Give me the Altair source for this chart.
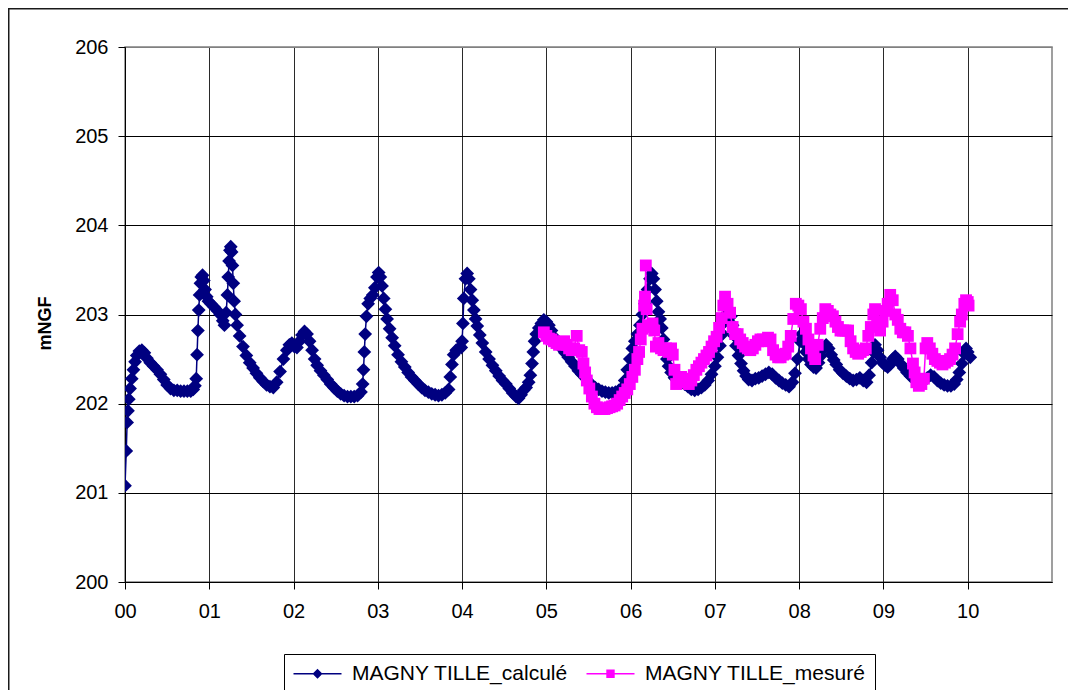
import altair as alt
import pandas as pd

# ---------------- data ----------------
series_names = ["MAGNY TILLE_calculé", "MAGNY TILLE_mesuré"]
series_colors = ["#000080", "#FF00FF"]
x_ticks = list(range(0, 11))
y_ticks = list(range(200, 207))

calc_t = [0.00, 0.015, 0.025, 0.035, 0.045, 0.06, 0.08, 0.10, 0.12, 0.14, 0.17, 0.20, 0.23, 0.26, 0.30, 0.34, 0.38, 0.42, 0.46, 0.50,
          0.54, 0.58, 0.62, 0.66, 0.70, 0.74, 0.78, 0.81, 0.83, 0.845, 0.855, 0.865, 0.875, 0.885, 0.895, 0.905, 0.92, 0.935, 0.95, 0.97,
          0.99, 1.02, 1.06, 1.10, 1.13, 1.16, 1.18, 1.20, 1.215, 1.225, 1.235, 1.245, 1.255, 1.265, 1.275, 1.285, 1.295, 1.31, 1.33, 1.36,
          1.40, 1.44, 1.48, 1.52, 1.56, 1.60, 1.64, 1.68, 1.72, 1.76, 1.80, 1.84, 1.88, 1.92, 1.95, 1.98, 2.01, 2.04, 2.07, 2.10,
          2.13, 2.16, 2.19, 2.22, 2.25, 2.28, 2.32, 2.36, 2.40, 2.44, 2.48, 2.52, 2.56, 2.60, 2.64, 2.68, 2.72, 2.76, 2.80, 2.82,
          2.83, 2.84, 2.85, 2.865, 2.885, 2.91, 2.94, 2.965, 2.99, 3.01, 3.03, 3.05, 3.07, 3.09, 3.11, 3.14, 3.17, 3.20, 3.24, 3.28,
          3.32, 3.36, 3.40, 3.44, 3.48, 3.52, 3.56, 3.60, 3.64, 3.68, 3.72, 3.76, 3.80, 3.84, 3.86, 3.88, 3.90, 3.93, 3.96, 3.99,
          4.00, 4.01, 4.02, 4.04, 4.06, 4.08, 4.10, 4.12, 4.14, 4.16, 4.18, 4.21, 4.24, 4.28, 4.32, 4.36, 4.40, 4.44, 4.48, 4.52,
          4.56, 4.60, 4.64, 4.67, 4.70, 4.73, 4.76, 4.79, 4.81, 4.83, 4.845, 4.86, 4.88, 4.91, 4.94, 4.97, 5.00, 5.03, 5.06, 5.10,
          5.14, 5.18, 5.22, 5.26, 5.30, 5.34, 5.38, 5.42, 5.46, 5.50, 5.54, 5.58, 5.62, 5.66, 5.70, 5.74, 5.78, 5.82, 5.86, 5.90,
          5.93, 5.96, 5.99, 6.02, 6.05, 6.08, 6.11, 6.14, 6.17, 6.20, 6.23, 6.25, 6.27, 6.29, 6.31, 6.33, 6.35, 6.37, 6.39, 6.41,
          6.43, 6.45, 6.48, 6.52, 6.56, 6.60, 6.64, 6.68, 6.72, 6.76, 6.80, 6.84, 6.88, 6.92, 6.96, 7.00, 7.03, 7.06, 7.09, 7.12,
          7.15, 7.17, 7.19, 7.21, 7.23, 7.25, 7.28, 7.31, 7.34, 7.37, 7.40, 7.44, 7.48, 7.52, 7.56, 7.60, 7.64, 7.68, 7.72, 7.76,
          7.80, 7.84, 7.88, 7.92, 7.95, 7.98, 8.01, 8.03, 8.05, 8.08, 8.11, 8.14, 8.17, 8.20, 8.23, 8.26, 8.29, 8.32, 8.35, 8.38,
          8.41, 8.44, 8.48, 8.52, 8.56, 8.60, 8.64, 8.68, 8.72, 8.76, 8.80, 8.83, 8.86, 8.88, 8.90, 8.93, 8.96, 8.99, 9.02, 9.05,
          9.08, 9.11, 9.14, 9.17, 9.20, 9.24, 9.28, 9.32, 9.36, 9.40, 9.44, 9.48, 9.52, 9.56, 9.60, 9.64, 9.68, 9.72, 9.76, 9.80,
          9.84, 9.87, 9.90, 9.93, 9.96, 9.98, 10.00, 10.03]
calc_v = [201.08, 201.47, 201.79, 201.92, 202.05, 202.17, 202.28, 202.38, 202.47, 202.54, 202.59, 202.60, 202.57, 202.51, 202.46, 202.42, 202.38, 202.33, 202.27, 202.21,
          202.17, 202.15, 202.15, 202.14, 202.14, 202.14, 202.14, 202.16, 202.20, 202.28, 202.55, 202.82, 203.05, 203.22, 203.35, 203.42, 203.44, 203.38, 203.28, 203.20,
          203.15, 203.12, 203.08, 203.04, 203.00, 202.93, 202.88, 203.02, 203.22, 203.42, 203.60, 203.72, 203.76, 203.70, 203.55, 203.35, 203.15, 203.00, 202.88, 202.76,
          202.64, 202.54, 202.46, 202.40, 202.34, 202.29, 202.25, 202.21, 202.19, 202.18, 202.24, 202.36, 202.50, 202.60, 202.66, 202.68, 202.64, 202.63, 202.70, 202.77,
          202.81, 202.78, 202.70, 202.60, 202.50, 202.43, 202.37, 202.32, 202.27, 202.22, 202.18, 202.14, 202.11, 202.09, 202.08, 202.08, 202.08, 202.09, 202.13, 202.22,
          202.38, 202.58, 202.78, 202.98, 203.12, 203.18, 203.22, 203.30, 203.42, 203.47, 203.42, 203.32, 203.18, 203.06, 202.95, 202.84, 202.74, 202.65, 202.55, 202.47,
          202.41, 202.35, 202.30, 202.26, 202.22, 202.18, 202.15, 202.13, 202.11, 202.10, 202.09, 202.10, 202.12, 202.16, 202.30, 202.44, 202.55, 202.60, 202.62, 202.63,
          202.70, 202.90, 203.18, 203.40, 203.46, 203.40, 203.28, 203.16, 203.05, 202.95, 202.87, 202.77, 202.68, 202.58, 202.50, 202.43, 202.37, 202.31, 202.26, 202.22,
          202.17, 202.12, 202.08, 202.06, 202.10, 202.15, 202.18, 202.24, 202.32, 202.45, 202.58, 202.70, 202.78, 202.85, 202.90, 202.94, 202.92, 202.88, 202.82, 202.74,
          202.68, 202.62, 202.57, 202.52, 202.47, 202.42, 202.37, 202.33, 202.29, 202.25, 202.21, 202.18, 202.16, 202.14, 202.13, 202.12, 202.12, 202.13, 202.15, 202.18,
          202.26, 202.38, 202.50, 202.62, 202.70, 202.78, 202.88, 203.00, 203.12, 203.28, 203.40, 203.46, 203.40, 203.28, 203.15, 203.03, 202.95, 202.85, 202.72, 202.60,
          202.50, 202.42, 202.35, 202.29, 202.26, 202.24, 202.22, 202.19, 202.16, 202.15, 202.16, 202.18, 202.21, 202.26, 202.33, 202.42, 202.52, 202.65, 202.78, 202.92,
          203.02, 203.05, 202.98, 202.88, 202.76, 202.65, 202.54, 202.45, 202.37, 202.31, 202.27, 202.26, 202.28, 202.29, 202.31, 202.33, 202.35, 202.33, 202.29, 202.26,
          202.23, 202.21, 202.19, 202.24, 202.34, 202.50, 202.70, 202.78, 202.68, 202.58, 202.50, 202.44, 202.41, 202.40, 202.46, 202.54, 202.62, 202.66, 202.62, 202.55,
          202.49, 202.44, 202.38, 202.34, 202.31, 202.28, 202.26, 202.27, 202.29, 202.26, 202.24, 202.32, 202.46, 202.58, 202.66, 202.60, 202.52, 202.46, 202.43, 202.41,
          202.44, 202.50, 202.53, 202.50, 202.45, 202.40, 202.35, 202.31, 202.28, 202.26, 202.25, 202.26, 202.29, 202.32, 202.30, 202.26, 202.23, 202.21, 202.20, 202.20,
          202.22, 202.27, 202.35, 202.45, 202.56, 202.62, 202.58, 202.52]

mes_t = [4.97, 5.00, 5.03, 5.06, 5.09, 5.12, 5.15, 5.18, 5.21, 5.24, 5.27, 5.30, 5.33, 5.36, 5.39, 5.42, 5.44, 5.46, 5.48, 5.51,
         5.54, 5.57, 5.60, 5.63, 5.66, 5.69, 5.72, 5.75, 5.78, 5.81, 5.84, 5.87, 5.90, 5.93, 5.96, 5.99, 6.02, 6.05, 6.08, 6.10,
         6.12, 6.14, 6.16, 6.17, 6.18, 6.19, 6.21, 6.24, 6.26, 6.28, 6.30, 6.33, 6.36, 6.39, 6.42, 6.45, 6.48, 6.50, 6.52, 6.54,
         6.57, 6.60, 6.63, 6.66, 6.69, 6.72, 6.75, 6.78, 6.81, 6.84, 6.87, 6.90, 6.93, 6.96, 6.99, 7.02, 7.05, 7.08, 7.10, 7.12,
         7.15, 7.18, 7.21, 7.24, 7.27, 7.30, 7.33, 7.36, 7.39, 7.42, 7.45, 7.48, 7.51, 7.54, 7.57, 7.60, 7.63, 7.66, 7.69, 7.72,
         7.75, 7.78, 7.81, 7.84, 7.87, 7.90, 7.93, 7.96, 7.99, 8.02, 8.05, 8.08, 8.11, 8.14, 8.17, 8.19, 8.22, 8.25, 8.28, 8.31,
         8.34, 8.37, 8.40, 8.43, 8.46, 8.49, 8.52, 8.55, 8.58, 8.61, 8.64, 8.67, 8.70, 8.73, 8.76, 8.79, 8.82, 8.85, 8.88, 8.90,
         8.93, 8.96, 8.99, 9.02, 9.05, 9.08, 9.11, 9.14, 9.17, 9.20, 9.23, 9.26, 9.29, 9.32, 9.35, 9.37, 9.39, 9.42, 9.45, 9.48,
         9.50, 9.52, 9.55, 9.58, 9.61, 9.64, 9.67, 9.70, 9.73, 9.76, 9.79, 9.82, 9.85, 9.88, 9.91, 9.93, 9.96, 9.98, 10.00, 10.01]
mes_v = [202.80, 202.76, 202.73, 202.72, 202.70, 202.68, 202.66, 202.68, 202.70, 202.66, 202.62, 202.60, 202.62, 202.76, 202.60, 202.58, 202.45, 202.35, 202.26, 202.17,
         202.08, 202.00, 201.96, 201.94, 201.94, 201.94, 201.95, 201.96, 201.97, 201.98, 202.00, 202.04, 202.08, 202.12, 202.16, 202.22, 202.30, 202.38, 202.50, 202.58,
         202.72, 202.84, 203.10, 203.20, 203.55, 203.06, 202.88, 202.86, 202.90, 202.82, 202.64, 202.68, 202.62, 202.60, 202.62, 202.58, 202.62, 202.55, 202.38, 202.22,
         202.26, 202.30, 202.28, 202.24, 202.22, 202.26, 202.32, 202.38, 202.42, 202.46, 202.50, 202.54, 202.58, 202.64, 202.70, 202.75, 202.85, 202.96, 203.10, 203.20,
         203.12, 203.02, 202.86, 202.78, 202.78, 202.72, 202.68, 202.64, 202.62, 202.60, 202.62, 202.66, 202.70, 202.72, 202.72, 202.70, 202.74, 202.72, 202.60, 202.55,
         202.52, 202.52, 202.55, 202.56, 202.64, 202.76, 202.95, 203.12, 203.10, 203.06, 202.92, 202.84, 202.72, 202.62, 202.54, 202.50, 202.66, 202.84, 202.96, 203.06,
         203.04, 203.00, 202.98, 202.92, 202.86, 202.82, 202.82, 202.82, 202.82, 202.70, 202.62, 202.58, 202.56, 202.58, 202.60, 202.62, 202.76, 202.86, 203.00, 203.06,
         202.92, 202.82, 202.92, 203.04, 203.12, 203.22, 203.16, 203.00, 202.94, 202.84, 202.80, 202.80, 202.76, 202.62, 202.45, 202.35, 202.24, 202.20, 202.22, 202.28,
         202.62, 202.68, 202.62, 202.56, 202.50, 202.48, 202.46, 202.44, 202.46, 202.48, 202.50, 202.55, 202.62, 202.78, 202.92, 203.00, 203.12, 203.16, 203.14, 203.10]

calc = pd.DataFrame({"t": calc_t, "v": calc_v, "serie": series_names[0]})
mes = pd.DataFrame({"t": mes_t, "v": mes_v, "serie": series_names[1]})
both = pd.concat([calc, mes], ignore_index=True)

FONT = "Liberation Sans"
PLOT_W, PLOT_H = 927, 535

x_scale = alt.Scale(domain=[0, 11], nice=False, zero=False)
y_scale = alt.Scale(domain=[200, 206], nice=False, zero=False)

x_axis = alt.Axis(values=x_ticks, format="02d", title=None, grid=True, gridColor="#2a2a2a", gridWidth=1,
                  labelFont=FONT, labelFontSize=20, labelColor="black", labelPadding=12, labelFlush=False,
                  labelOverlap=False, tickSize=7, tickColor="black", domainColor="black", domainWidth=1)
y_axis = alt.Axis(values=y_ticks, format="d", title="mNGF", grid=True,
                  gridColor={"condition": {"test": "datum.value === 206", "value": "#808080"}, "value": "#000000"},
                  gridWidth=1, labelFont=FONT, labelFontSize=20, labelColor="black", labelPadding=10,
                  tickSize=7, tickColor="black", domainColor="black", domainWidth=1,
                  titleFont=FONT, titleFontSize=18, titleFontWeight="bold", titleColor="black",
                  titleAngle=270, titleX=-80, titleY=276, titleAlign="center", titleBaseline="middle")

X = alt.X("t:Q", scale=x_scale, axis=x_axis)
Y = alt.Y("v:Q", scale=y_scale, axis=y_axis)

calc_line = alt.Chart(calc).mark_line(color=series_colors[0], strokeWidth=1.5, clip=True).encode(x=X, y=Y)
calc_pts = alt.Chart(calc).mark_point(shape="diamond", filled=True, size=190, color=series_colors[0],
                                      opacity=1, clip=True).encode(x=X, y=Y)
mes_line = alt.Chart(mes).mark_line(color=series_colors[1], strokeWidth=1.5, clip=True).encode(x=X, y=Y)
mes_pts = alt.Chart(mes).mark_point(shape="square", filled=True, size=140, color=series_colors[1],
                                    opacity=1, clip=True).encode(x=X, y=Y)

# legend carrier (no visible marks): line + marker symbols
sym_diamond = "M-2.4,-0.07L2.4,-0.07L2.4,0.07L-2.4,0.07Z M0,-0.5L0.5,0L0,0.5L-0.5,0Z"
sym_square = "M-2.4,-0.07L2.4,-0.07L2.4,0.07L-2.4,0.07Z M-0.42,-0.42L0.42,-0.42L0.42,0.42L-0.42,0.42Z"
legend = alt.Legend(title=None, orient="none", legendX=159, legendY=607, direction="horizontal",
                    fillColor="white", strokeColor="black", padding=9, cornerRadius=0,
                    labelFont=FONT, labelFontSize=21, labelColor="black", labelLimit=400,
                    symbolSize=400, symbolOffset=14, labelOffset=24, columnPadding=18,
                    symbolStrokeWidth=0, symbolOpacity=1)
leg = alt.Chart(both).transform_filter("false").mark_point(filled=True, opacity=1).encode(
    color=alt.Color("serie:N", scale=alt.Scale(domain=series_names, range=series_colors), legend=legend),
    shape=alt.Shape("serie:N", scale=alt.Scale(domain=series_names, range=[sym_diamond, sym_square]), legend=legend),
)

# outer chart frame
frame = alt.Chart(pd.DataFrame({"k": [0]})).mark_rect(fill="transparent", stroke="#1a1a1a", strokeWidth=1.5,
                                                      clip=False).encode(
    x=alt.value(-116.25), x2=alt.value(960), y=alt.value(-38.25), y2=alt.value(660))

chart = alt.layer(frame, calc_line, calc_pts, mes_line, mes_pts, leg).properties(
    width=PLOT_W, height=PLOT_H,
    padding={"left": 117, "top": 39, "right": 16, "bottom": 108},
    autosize=alt.AutoSizeParams(type="none"),
).configure(font=FONT).configure_view(stroke="#808080", strokeWidth=1.5)

chart.save("out.html", embed_options={"renderer": "svg", "actions": False})
